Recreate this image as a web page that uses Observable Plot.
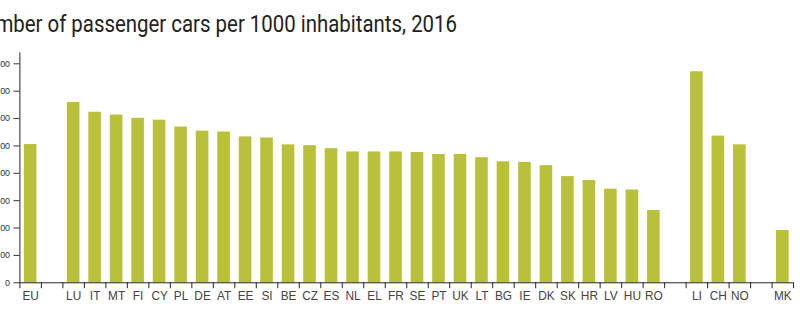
<!DOCTYPE html>
<html>
<head>
<meta charset="utf-8">
<script src="https://cdn.jsdelivr.net/npm/d3@7"></script>
<script src="https://cdn.jsdelivr.net/npm/@observablehq/plot@0.6"></script>
<style>
  html, body { margin: 0; padding: 0; background: #fff; width: 800px; height: 325px; overflow: hidden; }
  #wrap { position: relative; width: 800px; height: 325px; overflow: hidden; }
  #title { position: absolute; top: 0; left: 0; white-space: nowrap; font-family: Roboto, sans-serif; font-size: 24px; color: #222; transform-origin: 0 0; line-height: 1; }
  #chart { position: absolute; top: 0; left: -30px; }
</style>
</head>
<body>
<div id="wrap">
  <div id="title"></div>
  <div id="chart"></div>
</div>
<script>
const titleText = "Number of passenger cars per 1000 inhabitants, 2016";
const labels = ["EU","","LU","IT","MT","FI","CY","PL","DE","AT","EE","SI","BE","CZ","ES","NL","EL","FR","SE","PT","UK","LT","BG","IE","DK","SK","HR","LV","HU","RO","","LI","CH","NO","","MK"];
const values = [505,null,659,623,613,601,594,569,554,551,533,529,504,501,490,478,478,478,476,469,469,457,442,440,428,388,374,342,339,264,null,771,536,504,null,191];
const yTicks = [0,100,200,300,400,500,600,700,800];

const data = labels.map((c, i) => ({c, i, v: values[i]})).filter(d => d.v != null);

const chart = Plot.plot({
  width: 840,
  height: 325,
  marginLeft: 50,
  marginRight: 7,
  marginTop: 53,
  marginBottom: 39.3,
  style: {fontFamily: "'Liberation Sans', Arial, sans-serif", background: "transparent", overflow: "visible"},
  x: {domain: [0, labels.length], axis: null},
  y: {domain: [0, 840], axis: null},
  marks: [
    Plot.rectY(data, {x1: d => d.i, x2: d => d.i + 1, y: "v", fill: "#b9c13a", insetLeft: 4.5, insetRight: 4.5}),
    Plot.axisY({ticks: yTicks, tickSize: 6, tickPadding: 4, fontSize: 9, color: "#333", label: null, tickFormat: d3.format("d")}),
    Plot.ruleX([0], {stroke: "#222"}),
    Plot.ruleY([0], {stroke: "#222"}),
    Plot.axisX({ticks: d3.range(0, labels.length + 1), tickSize: 6, tickFormat: () => "", label: null, stroke: "#222"}),
    Plot.axisX({ticks: labels.map((d, i) => i + 0.5), tickSize: 0, tickPadding: 9, fontSize: 12, color: "#444", label: null, tickFormat: d => labels[Math.floor(d)]})
  ]
});
document.getElementById("chart").appendChild(chart);

// title: condensed look; visible part "ber of ... 2016" spans x≈13 → 457
const t = document.getElementById("title");
t.textContent = titleText;
const ctx = document.createElement("canvas").getContext("2d");
ctx.font = "24px Roboto";
const full = ctx.measureText(titleText).width;
const pre = ctx.measureText("Num").width;
const rest = full - pre;
const sx = (457 - 13.3) / rest;
const left = 13.3 - sx * pre;
t.style.transform = `translate(${left}px, ${33.3 - 24 * 0.88}px) scaleX(${sx})`;
</script>
</body>
</html>
